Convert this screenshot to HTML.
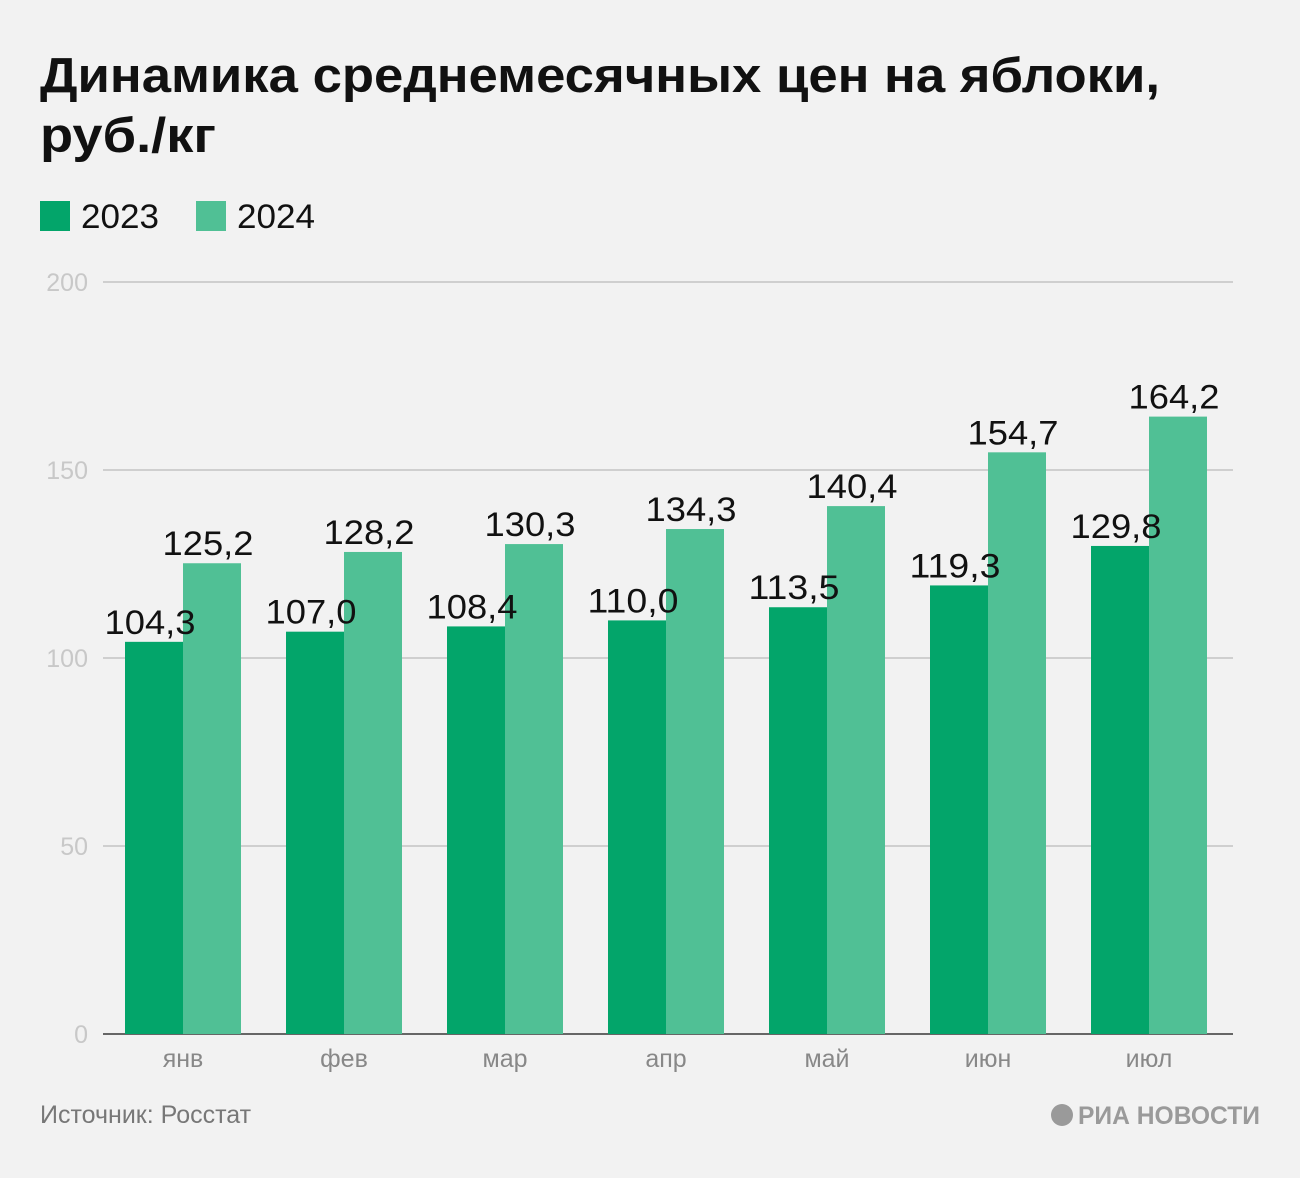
<!DOCTYPE html>
<html><head><meta charset="utf-8"><style>
body{margin:0;background:#f2f2f2;width:1300px;height:1173px;overflow:hidden;font-family:"Liberation Sans",sans-serif;}
</style></head><body>
<svg width="1300" height="1173" xmlns="http://www.w3.org/2000/svg">
<rect width="1300" height="1173" fill="#f2f2f2"/>
<text x="40" y="92" font-size="49" font-weight="bold" fill="#111" textLength="1120" lengthAdjust="spacingAndGlyphs">Динамика среднемесячных цен на яблоки,</text>
<text x="40" y="152" font-size="49" font-weight="bold" fill="#111" textLength="176" lengthAdjust="spacingAndGlyphs">руб./кг</text>
<rect x="40" y="201" width="30" height="30" fill="#03a56a"/>
<text x="81" y="228" font-size="34" fill="#111" textLength="78" lengthAdjust="spacingAndGlyphs">2023</text>
<rect x="196" y="201" width="30" height="30" fill="#50c095"/>
<text x="237" y="228" font-size="34" fill="#111" textLength="78" lengthAdjust="spacingAndGlyphs">2024</text>
<g id="grid"></g><g id="bars"></g><g id="labels"></g>
<text x="40" y="1123" font-size="25" fill="#777">Источник: Росстат</text>
<g>
<circle cx="1062" cy="1115" r="11" fill="#9a9a9a"/>
<text x="1078" y="1124" font-size="25" font-weight="bold" fill="#9a9a9a" textLength="182" lengthAdjust="spacingAndGlyphs">РИА НОВОСТИ</text>
</g>
</svg>
<script>
const categories=["янв","фев","мар","апр","май","июн","июл"];
const values2023=[104.3,107.0,108.4,110.0,113.5,119.3,129.8];
const values2024=[125.2,128.2,130.3,134.3,140.4,154.7,164.2];
const ticks=[0,50,100,150,200];
const NS="http://www.w3.org/2000/svg";
const y=v=>1034-v*3.76;
const xc=i=>183+i*161;
const bw=58;
function mk(t,a,p){const e=document.createElementNS(NS,t);for(const k in a)e.setAttribute(k,a[k]);p.appendChild(e);return e;}
const g=document.getElementById('grid'),b=document.getElementById('bars'),lb=document.getElementById('labels');
ticks.forEach(t=>{
 const l=mk('line',{x1:103,x2:1233,y1:y(t),y2:y(t),stroke:t===0?'#666':'#cfcfcf','stroke-width':2},g);
 
 
 const tx=mk('text',{x:88,y:y(t)+9,'font-size':25,fill:'#c8c8c8','text-anchor':'end'},g);
 tx.textContent=t;
 
 
});
const fmt=v=>v.toFixed(1).replace('.',',');
categories.forEach((c,i)=>{
 [[values2023,'#03a56a',-bw,'bar-2023'],[values2024,'#50c095',0,'bar-2024']].forEach(([arr,col,off,nm])=>{
  const v=arr[i];
  const r=mk('rect',{x:xc(i)+off,y:y(v),width:bw,height:y(0)-y(v),fill:col},b);
  
  
  const t=mk('text',{x:xc(i)+off+bw/2-4,y:y(v)-8,'font-size':34,fill:'#111','text-anchor':'middle',textLength:91,lengthAdjust:'spacingAndGlyphs'},lb);
  t.textContent=fmt(v);
  
  
 });
 const cl=mk('text',{x:xc(i),y:1067,'font-size':25,fill:'#888','text-anchor':'middle'},b);
 cl.textContent=c;
 
 
});
</script>
</body></html>
